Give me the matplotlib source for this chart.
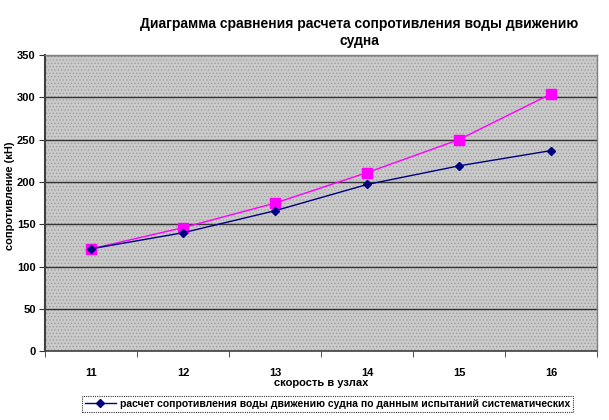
import matplotlib.pyplot as plt
from matplotlib.patches import Rectangle

# speed in knots
speeds = [11, 12, 13, 14, 15, 16]
# resistance, kN
resist_systematic = [121, 140, 166, 197, 219, 237]
resist_calc = [121, 146, 175, 211, 250, 304]

LEGEND_LABEL = 'расчет сопротивления воды движению судна по данным испытаний систематических'

plt.rcParams['font.family'] = ['Liberation Sans', 'DejaVu Sans']
plt.rcParams['hatch.linewidth'] = 0.6

fig = plt.figure(figsize=(6.09, 4.2), dpi=100)
fig.patch.set_facecolor('white')
ax = fig.add_axes([0.0747, 0.164, 0.9053, 0.705])

# grey dotted plot area like the old Excel pattern fill
ax.set_facecolor('#c6c6c6')
ax.add_patch(Rectangle((0, 0), 1, 1, transform=ax.transAxes,
                       facecolor='#cacaca', edgecolor='#a0a0a0',
                       hatch='.....', linewidth=0, zorder=0))

for y in range(50, 351, 50):
    ax.axhline(y, color='#333333', linewidth=1.0, zorder=1)

ax.plot(speeds, resist_systematic, color='#000080', linewidth=1.0,
        marker='D', markersize=4, zorder=3, label=LEGEND_LABEL)
ax.plot(speeds, resist_calc, color='#ff00ff', linewidth=1.0,
        marker='s', markersize=7, zorder=2)

ax.set_xlim(10.5, 16.5)
ax.set_ylim(0, 350)
ax.set_yticks(range(0, 351, 50))
ax.set_xticks(speeds)
ax.set_xticks([10.5 + i for i in range(7)], minor=True)
ax.tick_params(axis='x', which='major', length=0, pad=12)
ax.tick_params(axis='x', which='minor', length=4, color='#333333')
ax.tick_params(axis='y', length=4, color='#333333', pad=3)
for lab in ax.get_xticklabels() + ax.get_yticklabels():
    lab.set_fontweight('bold')
    lab.set_fontsize(8)

for side in ['top', 'right']:
    ax.spines[side].set_edgecolor('#808080')
    ax.spines[side].set_linewidth(1.0)
ax.spines['left'].set_edgecolor('#404040')
ax.spines['left'].set_linewidth(1.5)
ax.spines['bottom'].set_edgecolor('#404040')
ax.spines['bottom'].set_linestyle((0, (1, 1)))
ax.spines['bottom'].set_linewidth(1.2)

ax.set_xlabel('скорость в узлах', fontsize=8, fontweight='bold', labelpad=0)
fig.text(0.016, 0.535, 'сопротивление (кН)', rotation=90, ha='center', va='center',
         fontsize=8, fontweight='bold')

fig.text(0.59, 0.922, 'Диаграмма сравнения расчета сопротивления воды движению\nсудна',
         ha='center', va='center', fontsize=10, fontweight='bold', linespacing=1.25)

leg = fig.legend(loc='center', bbox_to_anchor=(0.538, 0.038), fontsize=7.5,
                 frameon=True, fancybox=False, edgecolor='black',
                 handlelength=3, borderpad=0.25, handletextpad=0.4)
leg.get_frame().set_linestyle((0, (1, 1)))
leg.get_frame().set_linewidth(0.8)
for t in leg.get_texts():
    t.set_fontweight('bold')

fig.savefig('out.png', dpi=100, facecolor='white')
